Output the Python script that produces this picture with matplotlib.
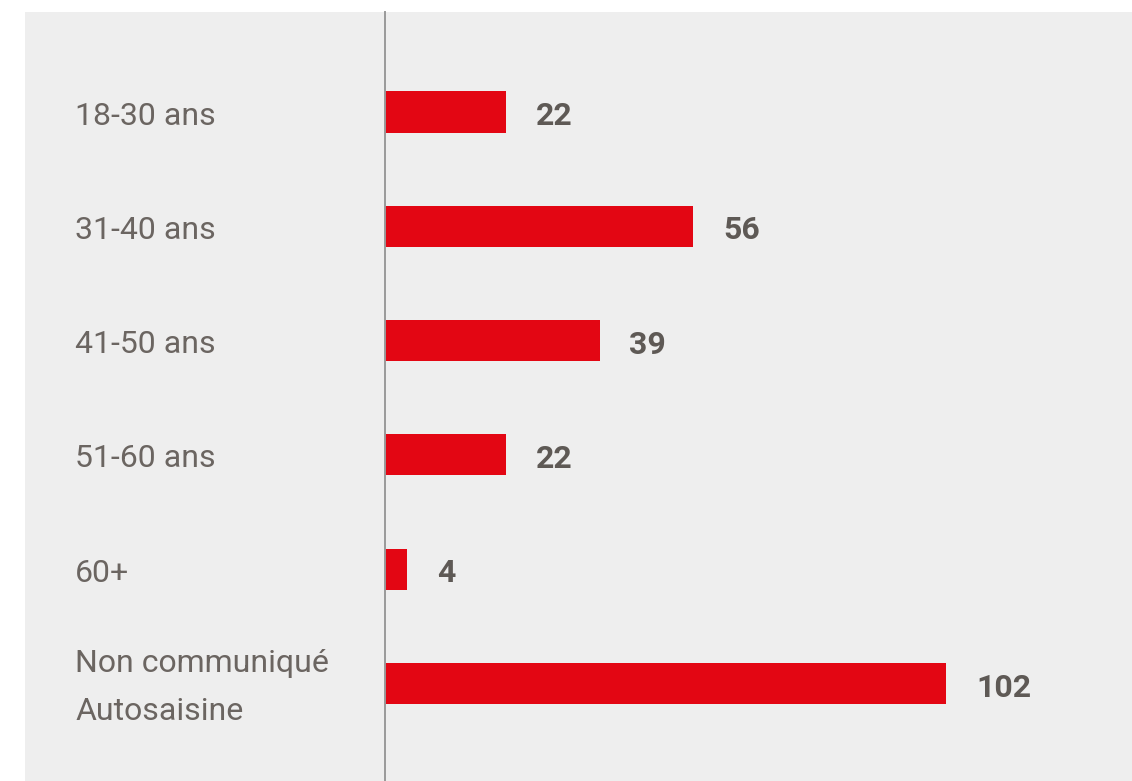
import matplotlib.pyplot as plt
import matplotlib.transforms as mtransforms

categories = ['18-30 ans', '31-40 ans', '41-50 ans', '51-60 ans', '60+', 'Non communiqué\nAutosaisine']
values = [22, 56, 39, 22, 4, 102]

bar_color = '#e30613'
bg_color = '#eeeeee'
label_color = '#6b6561'
value_color = '#5e5955'

plt.rcParams['font.family'] = ['Roboto', 'DejaVu Sans']

W, H = 1132, 781
fig = plt.figure(figsize=(W / 100, H / 100), dpi=100)
fig.patch.set_facecolor('white')

# fond gris du panneau
bg = fig.add_axes([25 / W, 0, 1 - 25 / W, (H - 12) / H], zorder=0)
bg.set_facecolor(bg_color)
bg.set_xticks([])
bg.set_yticks([])
for spine in bg.spines.values():
    spine.set_visible(False)

ax = fig.add_axes([385 / W, 0, 1 - 385 / W, (H - 12) / H], zorder=1)
ax.set_facecolor('none')

y = list(range(len(categories)))
ax.barh(y, values, height=0.36, color=bar_color, zorder=2)

ax.set_xlim(0, (W - 385) / 5.5)
ax.set_ylim(5.853, -0.875)

for spine in ['top', 'right', 'bottom']:
    ax.spines[spine].set_visible(False)
ax.spines['left'].set_color('#999999')
ax.spines['left'].set_linewidth(1.4)
ax.set_xticks([])
ax.set_yticks([])

# petit décalage vers le bas du texte (~4 px)
dy = 0.035

# libellés des catégories
trans = mtransforms.blended_transform_factory(fig.transFigure, ax.transData)
for yi, cat in zip(y, categories):
    ax.text(75 / W, yi + dy, cat, transform=trans, ha='left', va='center',
            fontsize=23, color=label_color, linespacing=1.85, clip_on=False)

# valeurs
for yi, v in zip(y, values):
    ax.annotate(str(v), xy=(v, yi + dy), xytext=(21.6, 0), textcoords='offset points',
                ha='left', va='center', fontsize=23, fontweight='bold',
                color=value_color)

fig.savefig('out.png', dpi=100)
